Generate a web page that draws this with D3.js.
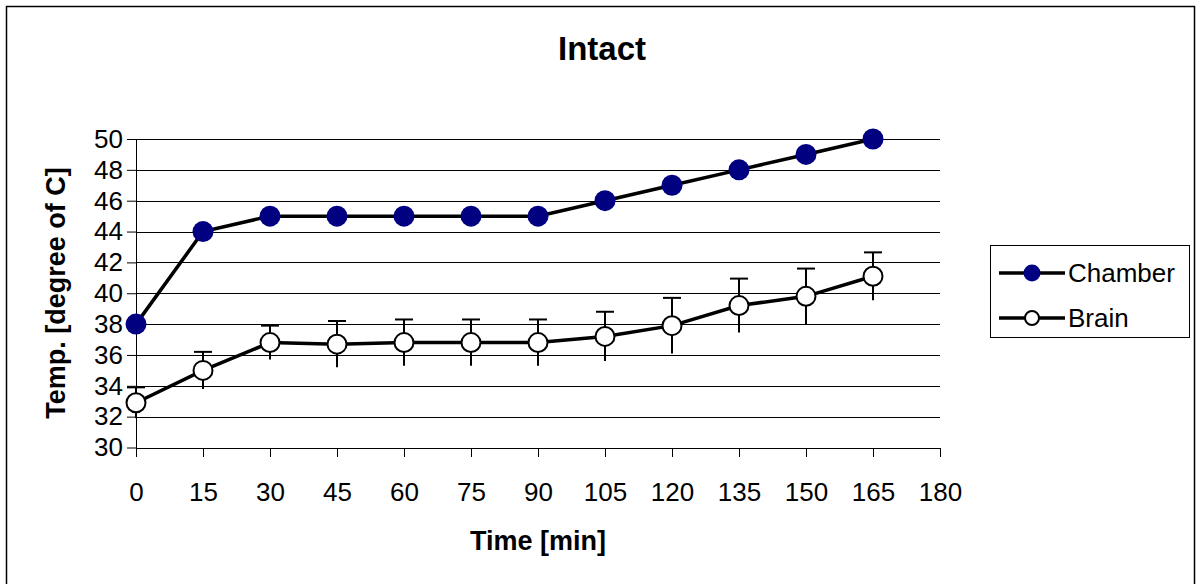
<!DOCTYPE html>
<html>
<head>
<meta charset="utf-8">
<script src="https://cdn.jsdelivr.net/npm/d3@7"></script>
<style>
  body { margin: 0; background: #fff; }
  svg text { font-family: "Liberation Sans", Arial, sans-serif; fill: #000; }
</style>
</head>
<body>
<svg id="chart"></svg>
<script>
var width = 1196,
    height = 584;

// data
var times = [0, 15, 30, 45, 60, 75, 90, 105, 120, 135, 150, 165];
var chamber = [38, 44, 45, 45, 45, 45, 45, 46, 47, 48, 49, 50];
var brain = [32.9, 35.0, 36.8, 36.7, 36.8, 36.8, 36.8, 37.2, 37.9, 39.2, 39.8, 41.1];
var brainErr = [1.0, 1.2, 1.1, 1.5, 1.5, 1.5, 1.5, 1.6, 1.8, 1.75, 1.8, 1.55];
var xTicks = [0, 15, 30, 45, 60, 75, 90, 105, 120, 135, 150, 165, 180];
var yTicks = [30, 32, 34, 36, 38, 40, 42, 44, 46, 48, 50];
var seriesNames = ["Chamber", "Brain"];

var svg = d3.select("#chart")
    .attr("width", width)
    .attr("height", height);

// outer frame
svg.append("rect")
    .attr("x", 6.5).attr("y", 6.5)
    .attr("width", 1188).attr("height", 600)
    .attr("fill", "none")
    .attr("stroke", "#000")
    .attr("stroke-width", 1.5);

var x = d3.scaleLinear().domain([0, 180]).range([136, 940]);
var y = d3.scaleLinear().domain([30, 50]).range([447.5, 139]);

// gridlines
svg.append("g")
    .selectAll("line")
    .data(yTicks.filter(function(d) { return d > 30; }))
    .enter().append("line")
      .attr("x1", x(0)).attr("x2", x(180))
      .attr("y1", function(d) { return Math.round(y(d)) + 0.5; })
      .attr("y2", function(d) { return Math.round(y(d)) + 0.5; })
      .attr("stroke", "#000")
      .attr("stroke-width", 1)
      .attr("shape-rendering", "crispEdges");

// x axis
var xAxis = svg.append("g")
    .attr("transform", "translate(0," + Math.round(y(30)) + ")")
    .call(d3.axisBottom(x).tickValues(xTicks).tickSize(9).tickPadding(26).tickSizeOuter(0));

// y axis
var yAxis = svg.append("g")
    .attr("transform", "translate(" + x(0) + ",0)")
    .call(d3.axisLeft(y).tickValues(yTicks).tickSize(9).tickPadding(4).tickSizeOuter(0));

[xAxis, yAxis].forEach(function(a) {
  a.select(".domain").attr("stroke", "#000").attr("stroke-width", 1);
  a.selectAll(".tick line").attr("stroke", "#000");
  a.selectAll(".tick text")
      .style("font-family", "'Liberation Sans', Arial, sans-serif")
      .style("font-size", "26px")
      .attr("fill", "#000");
});

// titles
svg.append("text")
    .attr("x", 602).attr("y", 60)
    .attr("text-anchor", "middle")
    .style("font-size", "33px")
    .style("font-weight", "bold")
    .text("Intact");

svg.append("text")
    .attr("x", 538).attr("y", 550)
    .attr("text-anchor", "middle")
    .style("font-size", "27px")
    .style("font-weight", "bold")
    .text("Time [min]");

svg.append("text")
    .attr("transform", "translate(65," + ((139 + 447) / 2) + ") rotate(-90)")
    .attr("text-anchor", "middle")
    .style("font-size", "27px")
    .style("font-weight", "bold")
    .text("Temp. [degree of C]");

// lines
var line = d3.line()
    .x(function(d) { return x(d[0]); })
    .y(function(d) { return y(d[1]); });

var chamberPts = times.map(function(t, i) { return [t, chamber[i]]; });
var brainPts = times.map(function(t, i) { return [t, brain[i], brainErr[i]]; });

svg.append("path")
    .datum(chamberPts)
    .attr("d", line)
    .attr("fill", "none")
    .attr("stroke", "#000")
    .attr("stroke-width", 3.5);

svg.append("path")
    .datum(brainPts)
    .attr("d", line)
    .attr("fill", "none")
    .attr("stroke", "#000")
    .attr("stroke-width", 3.5);

// error bars
var err = svg.append("g")
    .selectAll("g")
    .data(brainPts)
    .enter().append("g");

err.append("line")
    .attr("x1", function(d) { return x(d[0]); })
    .attr("x2", function(d) { return x(d[0]); })
    .attr("y1", function(d) { return y(d[1] + d[2]); })
    .attr("y2", function(d) { return y(d[1] - d[2]); })
    .attr("stroke", "#000")
    .attr("stroke-width", 2);

err.append("line")
    .attr("x1", function(d) { return x(d[0]) - 9; })
    .attr("x2", function(d) { return x(d[0]) + 9; })
    .attr("y1", function(d) { return y(d[1] + d[2]); })
    .attr("y2", function(d) { return y(d[1] + d[2]); })
    .attr("stroke", "#000")
    .attr("stroke-width", 2);

// markers
svg.append("g")
    .selectAll("circle")
    .data(chamberPts)
    .enter().append("circle")
      .attr("cx", function(d) { return x(d[0]); })
      .attr("cy", function(d) { return y(d[1]); })
      .attr("r", 10.5)
      .attr("fill", "#000080");

svg.append("g")
    .selectAll("circle")
    .data(brainPts)
    .enter().append("circle")
      .attr("cx", function(d) { return x(d[0]); })
      .attr("cy", function(d) { return y(d[1]); })
      .attr("r", 9.5)
      .attr("fill", "#fff")
      .attr("stroke", "#000")
      .attr("stroke-width", 2);

// legend
var legend = svg.append("g");
legend.append("rect")
    .attr("x", 990.5).attr("y", 245.5)
    .attr("width", 199).attr("height", 92)
    .attr("fill", "#fff")
    .attr("stroke", "#000")
    .attr("stroke-width", 1);

var rows = legend.selectAll("g.row")
    .data(seriesNames)
    .enter().append("g")
      .attr("class", "row")
      .attr("transform", function(d, i) { return "translate(0," + (273 + i * 45) + ")"; });

rows.append("line")
    .attr("x1", 999).attr("x2", 1065)
    .attr("stroke", "#000")
    .attr("stroke-width", 3.5);

rows.append("circle")
    .attr("cx", 1032)
    .attr("r", function(d, i) { return i === 0 ? 8.5 : 7; })
    .attr("fill", function(d, i) { return i === 0 ? "#000080" : "#fff"; })
    .attr("stroke", function(d, i) { return i === 0 ? "none" : "#000"; })
    .attr("stroke-width", 2);

rows.append("text")
    .attr("x", 1068)
    .attr("dy", "0.36em")
    .style("font-size", "26px")
    .text(function(d) { return d; });
</script>
</body>
</html>
